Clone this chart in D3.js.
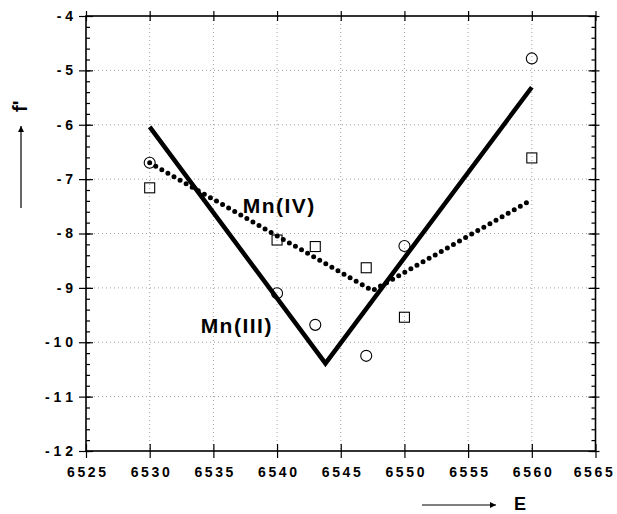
<!DOCTYPE html>
<html>
<head>
<meta charset="utf-8">
<script src="https://cdn.jsdelivr.net/npm/d3@7"></script>
<style>
  body { margin: 0; background: #fff; }
  svg { display: block; font-family: "Liberation Sans", Arial, sans-serif; }
</style>
</head>
<body>
<div id="chart"></div>
<script>
// axis ticks
const xTicks = [6525, 6530, 6535, 6540, 6545, 6550, 6555, 6560, 6565];
const yTicks = [-4, -5, -6, -7, -8, -9, -10, -11, -12];

// fitted lines (energy, f')
const mn3LineE = [6530, 6543.8, 6560];
const mn3LineF = [-6.04, -10.39, -5.31];
const mn4LineE = [6530, 6547.5, 6560];
const mn4LineF = [-6.70, -9.05, -7.38];

// measured points
const circleE = [6530, 6540, 6543, 6547, 6550, 6560];
const circleF = [-6.70, -9.10, -9.68, -10.25, -8.23, -4.78];
const squareE = [6530, 6540, 6543, 6547, 6550, 6560];
const squareF = [-7.16, -8.12, -8.24, -8.63, -9.54, -6.61];

const width = 617, height = 514;
const margin = { top: 16, right: 21.5, bottom: 63, left: 86 };

const svg = d3.select("#chart").append("svg")
  .attr("width", width)
  .attr("height", height);

const x = d3.scaleLinear().domain([6525, 6565]).range([margin.left, width - margin.right]);
const y = d3.scaleLinear().domain([-12, -4]).range([height - margin.bottom, margin.top]);

// grid
const grid = svg.append("g")
  .attr("stroke", "#888")
  .attr("stroke-width", 0.8)
  .attr("stroke-dasharray", "1 3");
grid.selectAll(".gx").data(xTicks.slice(1, -1)).join("line")
  .attr("x1", d => x(d)).attr("x2", d => x(d))
  .attr("y1", y(-4)).attr("y2", y(-12));
grid.selectAll(".gy").data(yTicks.slice(1, -1)).join("line")
  .attr("y1", d => y(d)).attr("y2", d => y(d))
  .attr("x1", x(6525)).attr("x2", x(6565));

// frame
svg.append("rect")
  .attr("x", x(6525)).attr("y", y(-4))
  .attr("width", x(6565) - x(6525)).attr("height", y(-12) - y(-4))
  .attr("fill", "none").attr("stroke", "#000").attr("stroke-width", 1.6);

const minorY = d3.range(-12, -4.001, 0.2);
const noLabel = () => "";

function styleAxis(g) {
  g.select(".domain").remove();
  g.selectAll(".tick line").attr("stroke", "#000").attr("stroke-width", 1.2);
}

// left axis: major ticks crossing + minor ticks inside
svg.append("g").attr("transform", `translate(${x(6525)},0)`)
  .call(d3.axisLeft(y).tickValues(yTicks).tickSize(7).tickPadding(6)
    .tickFormat(d => "- " + String(Math.abs(d)).split("").join(" ")))
  .call(styleAxis)
  .call(g => g.selectAll("text")
    .attr("fill", "#000")
    .attr("font-size", 14)
    .attr("font-weight", "bold")
    .style("white-space", "pre"));
svg.append("g").attr("transform", `translate(${x(6525)},0)`)
  .call(d3.axisRight(y).tickValues(yTicks).tickSize(7).tickFormat(noLabel)).call(styleAxis);
svg.append("g").attr("transform", `translate(${x(6525)},0)`)
  .call(d3.axisRight(y).tickValues(minorY).tickSize(4).tickFormat(noLabel)).call(styleAxis);

// right axis
svg.append("g").attr("transform", `translate(${x(6565)},0)`)
  .call(d3.axisLeft(y).tickValues(minorY).tickSize(4).tickFormat(noLabel)).call(styleAxis);
svg.append("g").attr("transform", `translate(${x(6565)},0)`)
  .call(d3.axisLeft(y).tickValues(yTicks).tickSize(7).tickFormat(noLabel)).call(styleAxis);
svg.append("g").attr("transform", `translate(${x(6565)},0)`)
  .call(d3.axisRight(y).tickValues(yTicks).tickSize(4).tickFormat(noLabel)).call(styleAxis);

// bottom axis
svg.append("g").attr("transform", `translate(0,${y(-12)})`)
  .call(d3.axisBottom(x).tickValues(xTicks).tickSize(7).tickPadding(9).tickFormat(d3.format("d")))
  .call(styleAxis)
  .call(g => g.selectAll("text")
    .attr("fill", "#000")
    .attr("font-size", 14)
    .attr("font-weight", "bold")
    .attr("letter-spacing", 2.6)
    .attr("dx", (d, i, n) => i === n.length - 1 ? -1.5 : 1.3));
svg.append("g").attr("transform", `translate(0,${y(-12)})`)
  .call(d3.axisTop(x).tickValues(xTicks).tickSize(7).tickFormat(noLabel)).call(styleAxis);

// top axis
svg.append("g").attr("transform", `translate(0,${y(-4)})`)
  .call(d3.axisTop(x).tickValues(xTicks).tickSize(5).tickFormat(noLabel)).call(styleAxis);
svg.append("g").attr("transform", `translate(0,${y(-4)})`)
  .call(d3.axisBottom(x).tickValues(xTicks).tickSize(5).tickFormat(noLabel)).call(styleAxis);

// lines
const line = d3.line().x(d => x(d[0])).y(d => y(d[1]));
svg.append("path")
  .datum(d3.zip(mn3LineE, mn3LineF))
  .attr("fill", "none")
  .attr("stroke", "#000")
  .attr("stroke-width", 4.5)
  .attr("stroke-linejoin", "miter")
  .attr("d", line);
svg.append("path")
  .datum(d3.zip(mn4LineE, mn4LineF))
  .attr("fill", "none")
  .attr("stroke", "#000")
  .attr("stroke-width", 5)
  .attr("stroke-linecap", "round")
  .attr("stroke-dasharray", "0 7")
  .attr("d", line);

// markers
svg.append("g").selectAll("circle")
  .data(d3.zip(circleE, circleF)).join("circle")
  .attr("cx", d => x(d[0])).attr("cy", d => y(d[1]))
  .attr("r", 5.5)
  .attr("fill", "none").attr("stroke", "#000").attr("stroke-width", 1.1);
svg.append("g").selectAll("rect")
  .data(d3.zip(squareE, squareF)).join("rect")
  .attr("x", d => x(d[0]) - 5).attr("y", d => y(d[1]) - 5)
  .attr("width", 10).attr("height", 10)
  .attr("fill", "none").attr("stroke", "#000").attr("stroke-width", 1.1);

// curve labels
svg.append("text")
  .attr("x", x(6537.3)).attr("y", y(-7.62))
  .attr("font-size", 21).attr("font-weight", "bold").attr("letter-spacing", 1.5)
  .text("Mn(IV)");
svg.append("text")
  .attr("x", x(6534.0)).attr("y", y(-9.83))
  .attr("font-size", 21).attr("font-weight", "bold").attr("letter-spacing", 1.5)
  .text("Mn(III)");

// axis titles with arrows
svg.append("defs").append("marker")
  .attr("id", "arrow")
  .attr("viewBox", "0 0 10 10")
  .attr("refX", 10).attr("refY", 5)
  .attr("markerWidth", 8).attr("markerHeight", 6)
  .attr("markerUnits", "userSpaceOnUse")
  .attr("orient", "auto")
  .append("path").attr("d", "M0,0L10,5L0,10Z").attr("fill", "#000");

svg.append("line")
  .attr("x1", 422).attr("y1", 505).attr("x2", 496).attr("y2", 505)
  .attr("stroke", "#000").attr("stroke-width", 1.2)
  .attr("marker-end", "url(#arrow)");
svg.append("text")
  .attr("x", 514).attr("y", 510)
  .attr("font-size", 18).attr("font-weight", "bold")
  .text("E");

svg.append("line")
  .attr("x1", 21).attr("y1", 208).attr("x2", 21).attr("y2", 126)
  .attr("stroke", "#000").attr("stroke-width", 1.2)
  .attr("marker-end", "url(#arrow)");
svg.append("text")
  .attr("transform", "translate(27,112) rotate(-90)")
  .attr("font-size", 20).attr("font-weight", "bold")
  .text("f'");
</script>
</body>
</html>
